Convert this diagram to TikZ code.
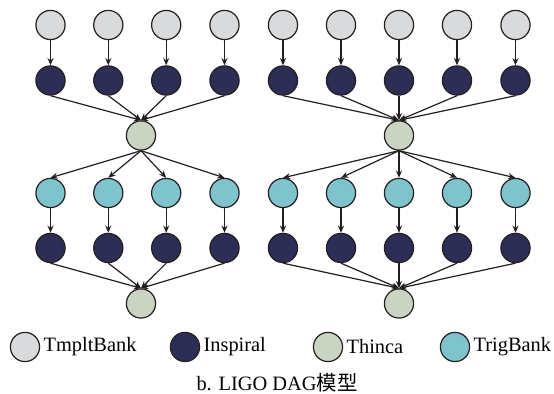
\documentclass[tikz,border=0pt]{standalone}
\usepackage{fontspec}
\setmainfont{Liberation Serif}
\newfontfamily\cjk{Noto Sans CJK SC}
\usetikzlibrary{positioning,arrows.meta}
\definecolor{tmpltc}{RGB}{217,218,220}
\definecolor{inspc}{RGB}{44,46,86}
\definecolor{thinc}{RGB}{201,213,194}
\definecolor{trigc}{RGB}{127,195,205}
\definecolor{linec}{RGB}{35,31,32}

\begin{document}
\begin{tikzpicture}[
  x=0.5pt, y=-0.5pt,
  job/.style={circle, draw=linec, line width=0.6pt, minimum size=14.6pt, inner sep=0pt},
  tmplt/.style={job, fill=tmpltc},
  insp/.style={job, fill=inspc},
  thin/.style={job, fill=thinc},
  trig/.style={job, fill=trigc},
  arr/.style={-{Stealth[length=3.6pt, width=3pt]}, line width=0.6pt, draw=linec},
  lbl/.style={font=\fontsize{10.2pt}{12pt}\selectfont, inner sep=0pt}
]
\useasboundingbox (0,0) rectangle (554,394);
% left workflow: four branches
\node[thin] (lthinA) at (141,135.5) {};
\node[thin] (lthinB) at (141,303.5) {};
\foreach \x [count=\i] in {50.5,108.3,166.2,224.5} {
  \node[tmplt] (ltb\i) at (\x,25) {};
  \node[insp] (linA\i) at (\x,80.5) {};
  \node[trig] (ltrig\i) at (\x,193) {};
  \node[insp] (linB\i) at (\x,248) {};
  \draw[arr] (ltb\i) -- (linA\i);
  \draw[arr] (linA\i.south) -- (lthinA.north);
  \draw[arr] (lthinA.south) -- (ltrig\i.north);
  \draw[arr] (ltrig\i) -- (linB\i);
  \draw[arr] (linB\i.south) -- (lthinB.north);
}
% right workflow: five branches
\node[thin] (rthinA) at (399,135.5) {};
\node[thin] (rthinB) at (399,303.5) {};
\foreach \x [count=\i] in {283,341,399,457,515.5} {
  \node[tmplt] (rtb\i) at (\x,25) {};
  \node[insp] (rinA\i) at (\x,80.5) {};
  \node[trig] (rtrig\i) at (\x,193) {};
  \node[insp] (rinB\i) at (\x,248) {};
  \draw[arr] (rtb\i) -- (rinA\i);
  \draw[arr] (rinA\i.south) -- (rthinA.north);
  \draw[arr] (rthinA.south) -- (rtrig\i.north);
  \draw[arr] (rtrig\i) -- (rinB\i);
  \draw[arr] (rinB\i.south) -- (rthinB.north);
}
% legend
\node[tmplt] (keyT) at (25,347) {};
\node[lbl, right=1.5pt of keyT] (keyTl) {TmpltBank};
\node[insp] (keyI) at (185,347) {};
\node[lbl, right=1.5pt of keyI] (keyIl) {Inspiral};
\node[thin] (keyH) at (328,347) {};
\node[lbl, right=1.5pt of keyH] (keyHl) {Thinca};
\node[trig] (keyG) at (455,347) {};
\node[lbl, right=1.5pt of keyG] (keyGl) {TrigBank};
\node[lbl] (caption) at (277,383) {b. LIGO DAG{\cjk 模型}};
\end{tikzpicture}
\end{document}
